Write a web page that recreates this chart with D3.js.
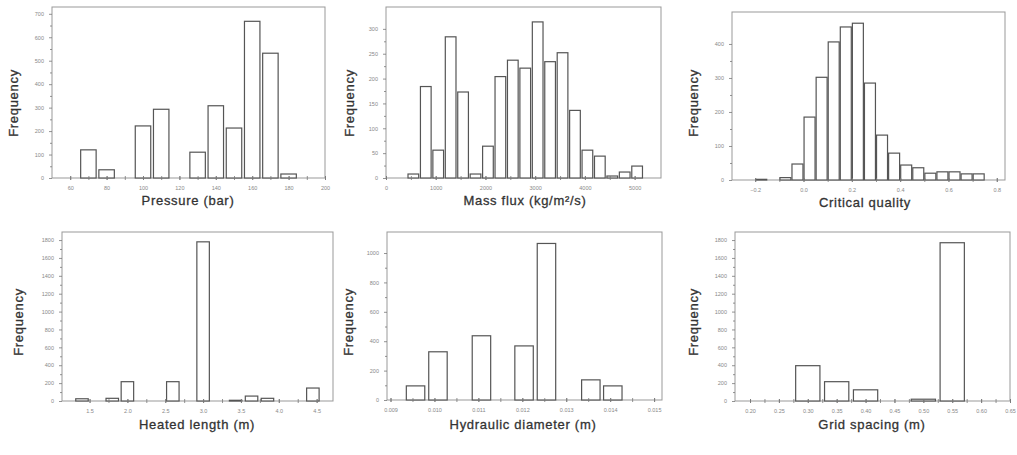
<!DOCTYPE html>
<html>
<head>
<meta charset="utf-8">
<script src="https://cdnjs.cloudflare.com/ajax/libs/d3/7.8.5/d3.min.js"></script>
<style>
  body { margin: 0; background: #fff; }
  svg { display: block; }
  .tick text { font-family: "Liberation Sans", Arial, sans-serif; font-size: 5.5px; fill: #888; }
  .tick line { stroke: #777; stroke-width: 0.8; }
  .title { font-family: "Liberation Sans", Arial, sans-serif; font-size: 13px; fill: #333; stroke: #333; stroke-width: 0.3px; letter-spacing: 0.7px; }
</style>
</head>
<body>
<div id="chart"></div>
<script>
// histogram data (bin centre, count)
var pressureBins = [70, 80, 100, 110, 130, 140, 150, 160, 170, 180];
var pressureCounts = [120, 35, 222, 293, 110, 308, 213, 668, 532, 17];
var pressureXTicks = [60, 80, 100, 120, 140, 160, 180, 200];
var pressureYTicks = [0, 100, 200, 300, 400, 500, 600, 700];

var massBins = [550, 800, 1050, 1300, 1550, 1800, 2050, 2300, 2550, 2800, 3050, 3300, 3550, 3800, 4050, 4300, 4550, 4800, 5050];
var massCounts = [8, 184, 56, 284, 173, 8, 64, 204, 237, 221, 314, 234, 252, 136, 56, 44, 4, 12, 24];
var massXTicks = [0, 1000, 2000, 3000, 4000, 5000];
var massYTicks = [0, 50, 100, 150, 200, 250, 300];

var qualityBins = [-0.175, -0.075, -0.025, 0.025, 0.075, 0.125, 0.175, 0.225, 0.275, 0.325, 0.375, 0.425, 0.475, 0.525, 0.575, 0.625, 0.675, 0.725];
var qualityCounts = [2, 7, 47, 185, 302, 406, 450, 461, 285, 132, 79, 44, 36, 20, 24, 24, 18, 18];
var qualityXTicks = [-0.2, 0.0, 0.2, 0.4, 0.6, 0.8];
var qualityYTicks = [0, 100, 200, 300, 400];

var lengthBins = [1.4, 1.8, 2.0, 2.6, 3.0, 3.43, 3.64, 3.85, 4.45];
var lengthCounts = [25, 30, 216, 216, 1780, 8, 55, 30, 145];
var lengthXTicks = [1.5, 2.0, 2.5, 3.0, 3.5, 4.0, 4.5];
var lengthYTicks = [0, 200, 400, 600, 800, 1000, 1200, 1400, 1600, 1800];

var diameterBins = [0.00957, 0.01008, 0.01107, 0.01204, 0.01255, 0.01356, 0.01406];
var diameterCounts = [96, 328, 437, 368, 1065, 137, 96];
var diameterXTicks = [0.009, 0.010, 0.011, 0.012, 0.013, 0.014, 0.015];
var diameterYTicks = [0, 200, 400, 600, 800, 1000];

var gridBins = [0.30, 0.35, 0.40, 0.50, 0.55];
var gridCounts = [395, 216, 125, 20, 1770];
var gridXTicks = [0.20, 0.25, 0.30, 0.35, 0.40, 0.45, 0.50, 0.55, 0.60, 0.65];
var gridYTicks = [0, 200, 400, 600, 800, 1000, 1200, 1400, 1600, 1800];

// panel setup (frame box in px, axis domains, bar width in data units)
var panels = [
  {bins: pressureBins, counts: pressureCounts, xt: pressureXTicks, yt: pressureYTicks, fmt: d3.format("d"),
   xDom: [50, 200], yDom: [0, 729], bw: 8.5, box: [52, 7, 273, 171], label: "Pressure (bar)", lx: 188, ly: 205, fy: 103, fx: 13},
  {bins: massBins, counts: massCounts, xt: massXTicks, yt: massYTicks, fmt: d3.format("d"),
   xDom: [0, 5530], yDom: [0, 344], bw: 215, box: [386, 7, 275, 171], label: "Mass flux (kg/m\u00b2/s)", lx: 525, ly: 205, fy: 103, fx: 349},
  {bins: qualityBins, counts: qualityCounts, xt: qualityXTicks, yt: qualityYTicks, fmt: d3.format(".1f"),
   xDom: [-0.296, 0.834], yDom: [0, 494], bw: 0.0455, box: [732, 12, 273, 168], label: "Critical quality", lx: 865, ly: 207, fy: 103, fx: 693},
  {bins: lengthBins, counts: lengthCounts, xt: lengthXTicks, yt: lengthYTicks, fmt: d3.format(".1f"),
   xDom: [1.136, 4.716], yDom: [0, 1890], bw: 0.165, box: [62, 232, 271, 169], label: "Heated length (m)", lx: 197, ly: 429, fy: 322, fx: 18},
  {bins: diameterBins, counts: diameterCounts, xt: diameterXTicks, yt: diameterYTicks, fmt: d3.format(".3f"),
   xDom: [0.00892, 0.01518], yDom: [0, 1143], bw: 0.00042, box: [387, 232, 275, 168], label: "Hydraulic diameter (m)", lx: 523, ly: 429, fy: 322, fx: 348},
  {bins: gridBins, counts: gridCounts, xt: gridXTicks, yt: gridYTicks, fmt: d3.format(".2f"),
   xDom: [0.174, 0.65], yDom: [0, 1890], bw: 0.042, box: [735, 232, 275, 169], label: "Grid spacing (m)", lx: 872, ly: 429, fy: 322, fx: 693}
];

var svg = d3.select("#chart").append("svg")
  .attr("width", 1017)
  .attr("height", 455);

// midpoints between major ticks
function minors(t) {
  var m = [];
  for (var i = 0; i < t.length - 1; i++) m.push((t[i] + t[i + 1]) / 2);
  return m;
}

panels.forEach(function(p) {
  var left = p.box[0], top = p.box[1], w = p.box[2], h = p.box[3];
  var x = d3.scaleLinear().domain(p.xDom).range([0, w]);
  var y = d3.scaleLinear().domain(p.yDom).range([h, 0]);

  var g = svg.append("g").attr("transform", "translate(" + left + "," + top + ")");

  // frame
  g.append("rect")
    .attr("width", w).attr("height", h)
    .attr("fill", "none").attr("stroke", "#999").attr("stroke-width", 1);

  // bars
  g.selectAll(".bar")
    .data(p.bins.map(function(b, i) { return {c: b, n: p.counts[i]}; }))
    .join("rect")
      .attr("class", "bar")
      .attr("x", function(d) { return x(d.c - p.bw / 2); })
      .attr("width", function(d) { return x(d.c + p.bw / 2) - x(d.c - p.bw / 2); })
      .attr("y", function(d) { return y(d.n); })
      .attr("height", function(d) { return h - y(d.n); })
      .attr("fill", "#fff").attr("stroke", "#555").attr("stroke-width", 1.2);

  // x axis, major + minor
  var xa = g.append("g").attr("transform", "translate(0," + h + ")")
    .call(d3.axisBottom(x).tickValues(p.xt).tickFormat(p.fmt).tickSize(2).tickPadding(6));
  xa.selectAll(".tick line").attr("y1", -2).attr("y2", 2);
  g.append("g").attr("transform", "translate(0," + h + ")")
    .call(d3.axisBottom(x).tickValues(minors(p.xt).concat(p.xt)).tickFormat("").tickSize(2))
    .selectAll(".tick line").attr("y1", -2).attr("y2", 2);

  // y axis
  g.append("g")
    .call(d3.axisLeft(y).tickValues(p.yt).tickFormat(d3.format("d")).tickSize(3).tickPadding(5));
  g.append("g")
    .call(d3.axisLeft(y).tickValues(minors(p.yt)).tickFormat("").tickSize(2));
  g.selectAll(".domain").remove();

  // titles
  svg.append("text").attr("class", "title")
    .attr("x", p.lx).attr("y", p.ly)
    .attr("text-anchor", "middle")
    .text(p.label);
  svg.append("text").attr("class", "title")
    .attr("transform", "translate(" + p.fx + "," + p.fy + ") rotate(-90)")
    .attr("text-anchor", "middle")
    .attr("dy", "0.35em")
    .text("Frequency");
});
</script>
</body>
</html>
